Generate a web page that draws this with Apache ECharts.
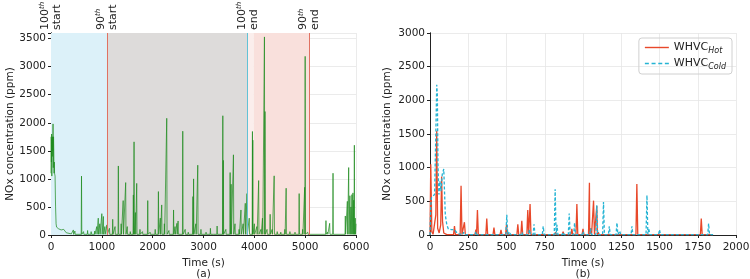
<!DOCTYPE html>
<html>
<head>
<meta charset="utf-8">
<script src="https://cdn.jsdelivr.net/npm/echarts@6/dist/echarts.min.js"></script>
<style>html,body{margin:0;padding:0;background:#fff}#main{width:750px;height:279px}</style>
</head>
<body>
<div id="main"></div>
<script>
var FONT = 'DejaVu Sans';

// (a) 6000 s run, NOx in ppm
var aStartT = [0, 4, 8, 12, 16, 20, 25, 30, 35, 40, 45, 50, 55, 60, 65, 70, 80, 90, 100, 110, 150, 200, 250, 300, 400];
var aStartV = [1100, 1750, 1300, 1800, 1050, 1700, 1400, 1750, 1500, 1980, 1200, 1750, 1500, 1100, 1300, 1100, 1050, 500, 200, 140, 110, 90, 100, 40, 20];
var aPeakT = [440, 470, 600, 640, 720, 790, 860, 900, 930, 960, 1000, 1030, 1060, 1100, 1150, 1214, 1260, 1325, 1380, 1420, 1469, 1500, 1560,
  1620, 1634, 1660, 1686, 1750, 1800, 1903, 1950, 2050, 2113, 2150, 2178, 2230, 2277, 2320, 2411, 2440, 2477, 2500, 2592, 2640, 2700,
  2792, 2805, 2850, 2887, 2950, 3050, 3136, 3200, 3268, 3380, 3390, 3440, 3524, 3543, 3589, 3620, 3700, 3737, 3780, 3822, 3856, 3900,
  3963, 3970, 4000, 4050, 4085, 4130, 4160, 4199, 4210, 4250, 4311, 4350, 4390, 4450, 4520, 4600, 4626, 4700, 4800, 4882, 4950, 4990,
  5000, 5050, 5409, 5440, 5482, 5548, 5790, 5830, 5856, 5880, 5900, 5920, 5940, 5955, 5968, 5985];
var aPeakV = [90, 70, 1050, 60, 80, 60, 70, 150, 300, 200, 380, 330, 150, 180, 120, 280, 150, 1230, 200, 613, 934, 150, 60,
  714, 1660, 400, 920, 100, 60, 613, 50, 100, 774, 300, 536, 200, 2080, 80, 446, 150, 208, 250, 1850, 100, 50,
  684, 1000, 200, 1244, 100, 50, 119, 40, 160, 2125, 1330, 100, 1113, 905, 1429, 200, 100, 446, 200, 565, 738, 300,
  1845, 1690, 200, 150, 970, 100, 300, 3530, 2200, 100, 369, 100, 1054, 60, 50, 100, 834, 60, 50, 738, 100, 850,
  3184, 50, 256, 50, 208, 1101, 339, 600, 1202, 700, 500, 720, 750, 620, 1600, 300];
var aFloor = 12;
var aEnd = [6000, 200];

// 100th / 90th percentile windows (s)
var winT = [0, 1100, 3870, 5085];
var winNum = ['100', '90', '100', '90'];
var winWord = ['start', 'start', 'end', 'end'];

// (b) WHVC hot / cold
var hotStartT = [0, 5, 12, 20, 30, 38, 44, 50, 60, 70, 76, 82, 90, 110];
var hotStartV = [0, 1050, 50, 10, 20, 300, 1550, 100, 30, 150, 870, 200, 30, 5];
var hotPeakT = [160, 203, 225, 300, 310, 371, 418, 464, 500, 574, 600, 639, 654, 700, 820, 870, 927, 960, 1000, 1042, 1050, 1069, 1090, 1100, 1352, 1773];
var hotPeakV = [133, 733, 190, 80, 372, 245, 110, 75, 150, 160, 210, 372, 460, 30, 40, 50, 90, 460, 90, 777, 100, 510, 430, 40, 757, 245];
var hotEnd = [1850, 5];

var coldStartT = [0, 5, 10, 20, 30, 38, 44, 48, 52, 58, 65, 72, 80, 90, 100, 110, 120, 140, 160, 180];
var coldStartV = [0, 450, 560, 580, 600, 1500, 2230, 2100, 1070, 600, 800, 650, 900, 980, 300, 150, 90, 80, 80, 20];
var coldPeakT = [220, 300, 380, 420, 502, 520, 600, 650, 680, 740, 818, 830, 870, 910, 945, 1000, 1050, 1090, 1134, 1172, 1222, 1240, 1320, 1418, 1430, 1500, 1550, 1620, 1680, 1740, 1821];
var coldPeakV = [40, 50, 30, 20, 300, 50, 40, 80, 160, 130, 680, 150, 40, 320, 180, 50, 100, 440, 490, 130, 180, 60, 130, 590, 100, 80, 30, 30, 30, 30, 170];
var coldEnd = [1850, 5];

function buildLine(startT, startV, peakT, peakV, floor, halfW, end) {
  var pts = [];
  for (var i = 0; i < startT.length; i++) pts.push([startT[i], startV[i]]);
  for (var j = 0; j < peakT.length; j++) {
    pts.push([peakT[j] - halfW, floor]);
    pts.push([peakT[j], peakV[j]]);
    pts.push([peakT[j] + halfW, floor]);
  }
  pts.push(end);
  pts.sort(function (a, b) { return a[0] - b[0]; });
  return pts;
}

var nameTxt = {color: '#222', fontSize: 10.5, fontFamily: FONT, lineHeight: 11};
var gridLine = {show: true, lineStyle: {color: '#e6e6e6', width: 0.8}};
var blackLine = {show: true, lineStyle: {color: '#222', width: 1}};

function valueAxis(grid, min, max, step, margin, extra) {
  var a = {
    gridIndex: grid, type: 'value', min: min, max: max, interval: step,
    axisLine: blackLine, axisTick: {show: true, length: 3, lineStyle: {color: '#222'}},
    axisLabel: {show: true, margin: margin, fontSize: 10.5, color: '#222', fontFamily: FONT,
      formatter: function (v) { return v % step === 0 ? v : ''; }},
    splitLine: gridLine
  };
  for (var k in extra) a[k] = extra[k];
  return a;
}
function frameAxis(grid, pos, min, max) {
  return {gridIndex: grid, type: 'value', position: pos, min: min, max: max,
    axisLine: blackLine, axisTick: {show: false}, axisLabel: {show: false}, splitLine: {show: false}};
}

var myChart = echarts.init(document.getElementById('main'));

option = {
  animation: false,
  backgroundColor: '#fff',
  grid: [
    {left: 51, right: 394, top: 33, bottom: 44, containLabel: false, outerBoundsMode: 'none'},
    {left: 430, right: 14, top: 33, bottom: 44, containLabel: false, outerBoundsMode: 'none'}
  ],
  xAxis: [
    valueAxis(0, 0, 6000, 1000, 7, {name: 'Time (s)\n(a)', nameLocation: 'middle', nameGap: 21, nameTextStyle: nameTxt}),
    valueAxis(1, 0, 2000, 250, 7, {name: 'Time (s)\n(b)', nameLocation: 'middle', nameGap: 21, nameTextStyle: nameTxt}),
    frameAxis(0, 'top', 0, 6000),
    frameAxis(1, 'top', 0, 2000)
  ],
  yAxis: [
    valueAxis(0, 0, 3600, 500, 5, {name: 'NOx concentration (ppm)', nameLocation: 'middle', nameGap: 33, nameTextStyle: nameTxt}),
    valueAxis(1, 0, 3000, 500, 5, {name: 'NOx concentration (ppm)', nameLocation: 'middle', nameGap: 37, nameTextStyle: nameTxt}),
    frameAxis(0, 'right', 0, 3600),
    frameAxis(1, 'right', 0, 3000)
  ],
  legend: {
    data: [
      {name: 'Hot', icon: 'path://M0,0h24v1.4h-24z'},
      {name: 'Cold', icon: 'path://M0,0h4v1.4h-4z M6.7,0h4v1.4h-4z M13.4,0h4v1.4h-4z M20,0h4v1.4h-4z'}
    ],
    orient: 'vertical', right: 18, top: 38,
    borderColor: '#d0d0d0', borderWidth: 1, borderRadius: 3,
    padding: [4, 6, 3, 6], itemGap: 3, itemWidth: 24, itemHeight: 1.4,
    formatter: function (name) { return '{m|WHVC}{s|' + name + '}'; },
    textStyle: {
      color: '#222', fontFamily: FONT,
      rich: {
        m: {fontSize: 11, fontFamily: FONT, color: '#222', lineHeight: 15},
        s: {fontSize: 8, fontFamily: FONT, fontStyle: 'italic', color: '#222', verticalAlign: 'bottom', lineHeight: 9}
      }
    }
  },
  series: [
    {
      name: 'NOx', type: 'line', xAxisIndex: 0, yAxisIndex: 0,
      data: buildLine(aStartT, aStartV, aPeakT, aPeakV, aFloor, 6, aEnd),
      symbol: 'none',
      lineStyle: {color: '#1e8c1e', width: 0.8, opacity: 0.9},
      markArea: {
        silent: true,
        data: [
          [{xAxis: winT[0], itemStyle: {color: '#dcf1f9'}}, {xAxis: winT[1]}],
          [{xAxis: winT[1], itemStyle: {color: '#dddbda'}}, {xAxis: winT[2]}],
          [{xAxis: winT[2], itemStyle: {color: '#fbeeec'}}, {xAxis: 3990}],
          [{xAxis: 3990, itemStyle: {color: '#f9e0dc'}}, {xAxis: winT[3]}]
        ]
      },
      markLine: {
        silent: true, symbol: 'none', label: {show: false},
        data: [
          {xAxis: winT[1], lineStyle: {color: '#e07262', width: 1, type: 'solid'}},
          {xAxis: winT[2], lineStyle: {color: '#62c2d6', width: 1, type: 'solid'}},
          {xAxis: winT[3], lineStyle: {color: '#e07262', width: 1, type: 'solid'}}
        ]
      }
    },
    {
      name: 'Hot', type: 'line', xAxisIndex: 1, yAxisIndex: 1,
      data: buildLine(hotStartT, hotStartV, hotPeakT, hotPeakV, 5, 6, hotEnd),
      symbol: 'none', color: '#e8482a',
      lineStyle: {color: '#e8482a', width: 1.3}
    },
    {
      name: 'Cold', type: 'line', xAxisIndex: 1, yAxisIndex: 1,
      data: buildLine(coldStartT, coldStartV, coldPeakT, coldPeakV, 5, 6, coldEnd),
      symbol: 'none', color: '#25b4d4',
      lineStyle: {color: '#25b4d4', width: 1.3, type: [3, 2]}
    }
  ]
};
myChart.setOption(option);

// rotated window labels over panel (a)
var g = [];
var topPx = myChart.convertToPixel({yAxisIndex: 0}, 3600);
for (var i = 0; i < winT.length; i++) {
  var px = myChart.convertToPixel({xAxisIndex: 0}, winT[i]);
  g.push({
    type: 'text', x: px, y: topPx - 3, rotation: Math.PI / 2,
    style: {
      text: '{n|' + winNum[i] + '}{s|th}\n{n|' + winWord[i] + '}',
      align: 'left', verticalAlign: 'middle',
      rich: {
        n: {fontSize: 11, fontFamily: FONT, fill: '#222', lineHeight: 12},
        s: {fontSize: 7, fontFamily: FONT, fontStyle: 'italic', fill: '#222', verticalAlign: 'top', lineHeight: 12}
      }
    }
  });
}
myChart.setOption({graphic: g});
</script>
</body>
</html>
